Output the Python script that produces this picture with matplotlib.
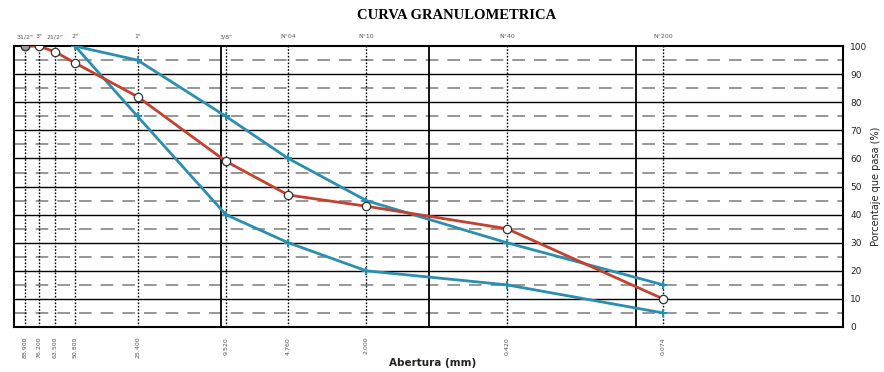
""" curva granulometrica """
import matplotlib
matplotlib.use("Agg")
from matplotlib import pyplot as plt
import numpy as np

# sieve data
sieve_names = ['31/2"', '3"', '21/2"', '2"', '1"', '3/8"', "N°04", "N°10", "N°40", "N°200"]
sieve_labels = ["88.900", "76.200", "63.500", "50.800", "25.400", "9.520", "4.760", "2.000", "0.420", "0.074"]
sieve_mm = [88.9, 76.2, 63.5, 50.8, 25.4, 9.52, 4.76, 2.0, 0.42, 0.074]

# sample (percent passing)
sample_pass = [100, 100, 98, 94, 82, 59, 47, 43, 35, 10]

# specification limits (from 2" down)
limit_mm = [50.8, 25.4, 9.52, 4.76, 2.0, 0.42, 0.074]
limit_upper = [100, 95, 75, 60, 45, 30, 15]
limit_lower = [100, 75, 40, 30, 20, 15, 5]

_red = "#c4402f"
_blue = "#2a8fae"

fig = plt.figure(figsize=(8.84, 3.72), dpi=100)
ax = fig.add_axes([0.016, 0.121, 0.938, 0.755])

ax.set_xscale("log")
ax.set_xlim(100, 0.01)
ax.set_ylim(0, 100)

# grid lines
for _y in range(10, 100, 10):
    ax.axhline(_y, color="black", linewidth=1.0, zorder=1)
for _y in range(5, 100, 10):
    ax.axhline(_y, color="#8f8f8f", linewidth=1.3, dashes=(7, 5), zorder=1)
for _x in [10, 1, 0.1]:
    ax.axvline(_x, color="black", linewidth=1.3, zorder=1)
for _x in sieve_mm:
    ax.axvline(_x, color="black", linewidth=1.0, linestyle=(0, (1.2, 1.2)), zorder=1)

# curves
ax.plot(limit_mm, limit_upper, color=_blue, linewidth=2.0, marker="P",
        markersize=6, markeredgewidth=0, zorder=3)
ax.plot(limit_mm, limit_lower, color=_blue, linewidth=2.0, marker="P",
        markersize=6, markeredgewidth=0, zorder=3)
ax.plot(sieve_mm, sample_pass, color=_red, linewidth=2.0, marker="o",
        markersize=6, markerfacecolor="white", markeredgecolor="#333333",
        markeredgewidth=0.9, zorder=4)
ax.plot(sieve_mm[:1], sample_pass[:1], linestyle="none", marker="o",
        markersize=6, markerfacecolor="#9a9a9a", markeredgecolor="#333333",
        markeredgewidth=0.9, zorder=5)

# axes layout
for _s in ax.spines.values():
    _s.set_linewidth(1.5)
ax.xaxis.set_major_locator(plt.NullLocator())
ax.xaxis.set_minor_locator(plt.NullLocator())
ax.yaxis.tick_right()
ax.set_yticks(range(0, 101, 10))
ax.tick_params(axis="y", length=0, pad=5, labelsize=6.5, labelcolor="#222222")

# sieve names on top, openings at the bottom
for _x, _n, _l in zip(sieve_mm, sieve_names, sieve_labels):
    ax.text(_x, 102.5, _n, fontsize=4.5, color="#555555", ha="center", va="bottom")
    ax.text(_x, -3.5, _l, fontsize=4.5, color="#555555", ha="center", va="top", rotation=90)

fig.text(0.516, 0.958, "CURVA GRANULOMETRICA", fontsize=10.5, fontweight="bold",
         family="Liberation Serif", ha="center", va="center")
fig.text(0.489, 0.025, "Abertura (mm)", fontsize=7.5, fontweight="bold",
         ha="center", va="center", color="#222222")
fig.text(0.991, 0.50, "Porcentaje que pasa (%)", fontsize=7, rotation=90,
         ha="center", va="center", color="#222222")

fig.savefig("out.png", dpi=100)
